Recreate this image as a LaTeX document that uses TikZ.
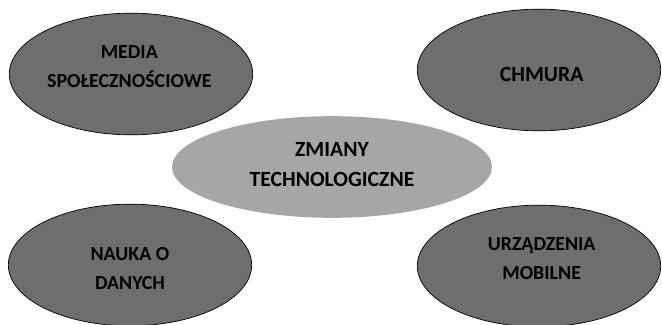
\documentclass[tikz,border=0pt]{standalone}
\usepackage{fontspec}
\setmainfont{Carlito}
\usetikzlibrary{shapes.geometric}
\definecolor{dunkel}{HTML}{6E6E6E}
\definecolor{hell}{HTML}{A6A6A6}
\begin{document}
\begin{tikzpicture}[line width=0.6pt,
      topic/.style={ellipse, draw=black, fill=dunkel, minimum width=7.3cm,
        minimum height=3.65cm, inner sep=0pt},
      core/.style={ellipse, fill=hell, minimum width=9.6cm,
        minimum height=3.05cm, inner sep=0pt},
      mytext/.style={align=center, inner sep=0pt,
        font=\fontsize{17}{24.5}\selectfont\bfseries},
      bigtext/.style={mytext, font=\fontsize{18.5}{25.5}\selectfont\bfseries}]
    \useasboundingbox (0,0) rectangle (19.86,9.72);
    \node[core] at (9.96,4.71) (A0) {};
    \node[topic] at (3.93,7.5) (A1) {};
    \node[topic] at (16.17,7.62) (A2) {};
    \node[topic] at (3.9,1.77) (A3) {};
    \node[topic] at (16.17,1.74) (A4) {};
    \node[bigtext] at ([yshift=0.08cm]A0.center) (T0) {ZMIANY\\TECHNOLOGICZNE};
    \node[mytext] at ([xshift=-0.05cm,yshift=0.22cm]A1.center) (T1) {MEDIA\\SPOŁECZNOŚCIOWE};
    \node[bigtext] at ([xshift=0.08cm,yshift=-0.12cm]A2.center) (T2) {CHMURA};
    \node[mytext] at ([yshift=-0.1cm]A3.center) (T3) {NAUKA O\\DANYCH};
    \node[mytext] at ([xshift=0.08cm,yshift=0.22cm]A4.center) (T4) {URZĄDZENIA\\MOBILNE};
  \end{tikzpicture}
\end{document}
